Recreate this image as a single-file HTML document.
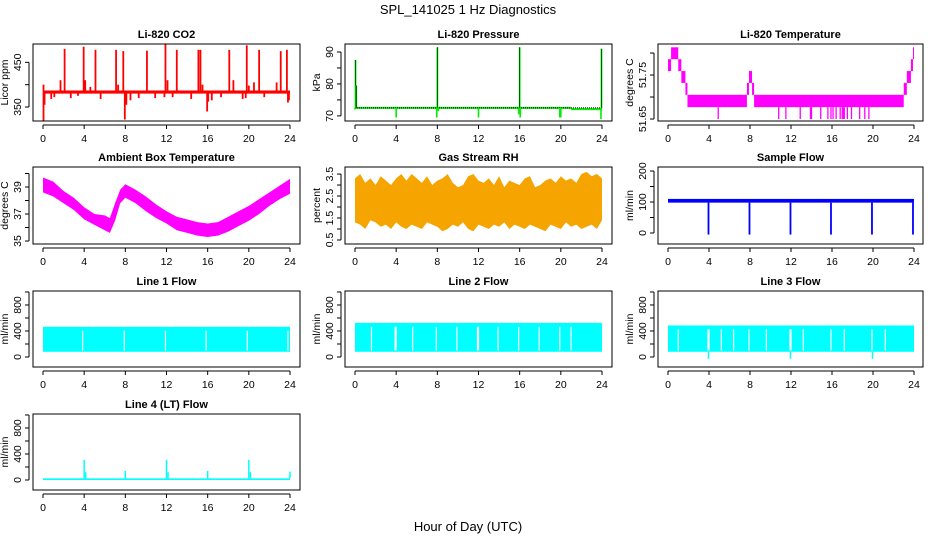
<!DOCTYPE html>
<html><head><meta charset="utf-8"><style>
html,body{margin:0;padding:0;background:#fff;}
svg{display:block;font-family:"Liberation Sans",sans-serif;}
.t{font-size:11px;font-weight:bold;text-anchor:middle;}
.tk{font-size:10.5px;text-anchor:middle;}
</style></head><body>
<svg id="c" width="936" height="540" viewBox="0 0 936 540">
<text x="468" y="14" font-size="13" text-anchor="middle">SPL_141025  1 Hz Diagnostics</text>
<text x="468" y="531" font-size="13" text-anchor="middle">Hour of Day (UTC)</text>
</svg>
<script>
// ---------- data ----------
const xTicks=[0,4,8,12,16,20,24];
const co2Base=383;
const co2SpikeT=[0.05,1.7,2.1,2.7,3.4,3.95,4.1,4.6,5.1,5.6,7.1,7.3,7.8,8.5,9.3,10.1,10.9,11.9,12.1,12.6,13.0,14.4,15.1,15.3,15.5,16.4,17.3,18.1,18.5,19.4,19.8,20.0,20.5,21.0,21.5,22.7,23.1,23.7,23.9];
const co2SpikeV=[400,410,480,370,375,485,410,395,478,368,478,400,475,365,370,476,370,490,410,372,478,368,478,478,400,365,372,478,410,368,488,398,405,478,372,405,475,478,365];
const co2DipT=[0.05,0.15,0.8,1.1,7.95,8.1,11.8,15.95,16.05,19.7,23.8];
const co2DipV=[318,355,368,372,322,355,372,340,362,370,360];
const presBase=72.5;
const presSpikeT=[0.05,0.12,8.0,16.0,23.95];
const presSpikeV=[87.5,79.5,91.5,91.5,91];
const presDipT=[0.0,4.0,7.95,8.1,12.0,15.9,16.05,19.9,20.0,23.9];
const presDipV=[72,69.5,69.5,71.5,69.5,70.5,69.5,69.5,69.5,69];
const tempStepT=[0,0.3,1.0,1.3,1.7,1.9,7.7,7.9,8.2,8.4,23.0,23.3,23.7,23.9];
const tempStepLo=[51.759,51.786,51.759,51.732,51.705,51.677,51.705,51.732,51.705,51.677,51.705,51.732,51.759,51.786];
const tempStepHi=[51.786,51.813,51.786,51.759,51.732,51.705,51.732,51.759,51.732,51.705,51.732,51.759,51.786,51.813];
const tempDipT=[4.9,10.8,11.5,12.9,13.9,14.0,14.9,15.6,15.9,16.1,16.4,16.8,17.0,17.1,17.2,17.5,17.9,18.7,19.2,19.6];
const ambT=[0,1,2,3,4,5,6,6.5,7,7.5,8,9,10,11,12,13,14,15,16,17,18,19,20,21,22,23,24];
const ambLo=[38.6,38.3,37.8,37.3,36.6,36.2,35.8,35.6,36.5,37.8,38.2,37.8,37.2,36.7,36.3,35.8,35.6,35.4,35.3,35.4,35.7,36.1,36.5,37.0,37.6,38.1,38.5];
const ambHi=[39.7,39.4,38.7,38.2,37.5,37.0,36.9,36.7,37.8,38.8,39.2,38.8,38.3,37.7,37.2,36.8,36.6,36.4,36.3,36.4,36.8,37.2,37.6,38.1,38.6,39.1,39.6];
const rhT=[0,0.5,1,1.5,2,2.5,3,3.5,4,4.5,5,5.5,6,6.5,7,7.5,8,8.5,9,9.5,10,10.5,11,11.5,12,12.5,13,13.5,14,14.5,15,15.5,16,16.5,17,17.5,18,18.5,19,19.5,20,20.5,21,21.5,22,22.5,23,23.5,24];
const rhHi=[3.3,3.5,3.1,3.3,3.0,3.4,3.2,3.0,3.3,3.5,3.2,3.5,3.3,3.1,3.4,3.0,3.2,3.3,3.5,3.1,2.9,3.0,3.4,3.5,3.2,3.1,3.3,3.0,3.4,2.9,3.2,3.1,3.0,3.3,3.4,2.9,3.0,3.2,3.3,3.1,3.4,3.2,3.3,3.1,3.5,3.6,3.4,3.5,3.3];
const rhLo=[1.3,1.2,1.0,1.4,1.3,1.1,1.2,1.0,1.3,1.1,1.0,1.2,1.1,1.0,1.3,1.2,1.1,0.9,1.0,1.2,1.1,1.3,1.0,0.9,1.2,1.1,1.0,1.2,1.1,1.3,1.0,1.2,1.1,1.0,1.2,1.1,1.0,0.9,1.2,1.1,1.0,1.3,1.1,1.2,1.0,1.1,1.2,1.0,1.4];
const sfLo=98, sfHi=110;
const sfDipT=[3.95,7.95,11.95,15.9,19.9,23.9];
const sfDipV=[-5,-5,-5,-5,-5,-5];
const l1Lo=80,l1Hi=465;
const l1Gap=[3.85,7.9,11.9,15.85,19.85,23.8];
const l2Lo=80,l2Hi=525;
const l2Gap=[1.6,3.9,4.0,5.6,7.9,9.9,11.9,12.0,13.9,15.9,17.9,19.9,21.0];
const l3Lo=80,l3Hi=485;
const l3Gap=[1.0,3.9,4.0,5.2,6.4,7.9,9.6,11.9,12.0,13.2,15.9,17.2,19.9,21.2];
const l3DipT=[3.95,11.95,19.95];
const l3DipV=[-30,-30,-30];
const l4Lo=0,l4Hi=25;
const l4SpikeT=[4.0,4.15,8.0,12.0,12.15,16.0,20.0,20.15,24.0];
const l4SpikeV=[310,120,140,310,120,140,310,120,130];

// ---------- layout ----------
const svg=document.getElementById('c');
const NS='http://www.w3.org/2000/svg';
const colL=[33,345,658], colR=[300,612,923], colX0=[43,355,668], colX24=[290,602,914];
const rowT=[44,167,291,414], rowB=[121,244,367,490];
function mk(tag,attrs,parent){const e=document.createElementNS(NS,tag);for(const k in attrs)e.setAttribute(k,attrs[k]);(parent||svg).appendChild(e);return e;}
function panel(col,row,title,ylab,dom,ticks,labels,name){
  const g=mk('g',{});
  
  
  const L=colL[col],R=colR[col],T=rowT[row],B=rowB[row];
  const sx=v=>colX0[col]+(colX24[col]-colX0[col])*v/24;
  const sy=v=>B-(v-dom[0])/(dom[1]-dom[0])*(B-T);
  const plot=mk('g',{},g);
  
  
  const box=mk('rect',{x:L,y:T,width:R-L,height:B-T,fill:'none',stroke:'#000','stroke-width':1},g);
  
  
  const tt=mk('text',{x:(L+R)/2,y:T-6,class:'t'},g);tt.textContent=title;
  
  
  const xa=mk('g',{},g);
  
  
  mk('line',{x1:sx(0),x2:sx(24),y1:B+4,y2:B+4,stroke:'#000'},xa);
  xTicks.forEach(v=>{mk('line',{x1:sx(v),x2:sx(v),y1:B+4,y2:B+8,stroke:'#000'},xa);
    const t=mk('text',{x:sx(v),y:B+21,class:'tk'},xa);t.textContent=v;});
  const ya=mk('g',{},g);
  
  
  mk('line',{x1:L-4,x2:L-4,y1:sy(ticks[0]),y2:sy(ticks[ticks.length-1]),stroke:'#000'},ya);
  ticks.forEach(v=>{mk('line',{x1:L-4,x2:L-8,y1:sy(v),y2:sy(v),stroke:'#000'},ya);});
  labels.forEach(v=>{const x=L-12,y=sy(v);const t=mk('text',{x:x,y:y,class:'tk',transform:`rotate(-90 ${x} ${y})`},ya);t.textContent=v;});
  const yl=mk('text',{x:L-25,y:(T+B)/2,class:'tk',transform:`rotate(-90 ${L-25} ${(T+B)/2})`},g);yl.textContent=ylab;
  
  
  return {sx,sy,g:plot};
}
function vline(p,t,v1,v2,col,w){mk('line',{x1:p.sx(t),x2:p.sx(t),y1:p.sy(v1),y2:p.sy(v2),stroke:col,'stroke-width':w||1.3},p.g);}
function hband(p,lo,hi,col){mk('rect',{x:p.sx(0),y:p.sy(hi),width:p.sx(24)-p.sx(0),height:Math.max(1.5,p.sy(lo)-p.sy(hi)),fill:col},p.g);}
function envelope(p,ts,lo,hi,fill){let d='M'+ts.map((t,i)=>p.sx(t)+','+p.sy(hi[i])).join(' L');
  for(let i=ts.length-1;i>=0;i--)d+=' L'+p.sx(ts[i])+','+p.sy(lo[i]);mk('path',{d:d+'Z',fill:fill},p.g);}

let p=panel(0,0,'Li-820 CO2','Licor ppm',[318.7,491],[350,400,450],[350,450],'co2-panel');
hband(p,380,387,'#ff0000');
co2SpikeT.forEach((t,i)=>vline(p,t,co2Base,co2SpikeV[i],'#ff0000',1.8));
co2DipT.forEach((t,i)=>vline(p,t,co2Base,co2DipV[i],'#ff0000',1.8));
p=panel(1,0,'Li-820 Pressure','kPa',[68.4,92.5],[70,75,80,85,90],[70,80,90],'pressure-panel');
mk('line',{x1:p.sx(0),x2:p.sx(21),y1:p.sy(presBase),y2:p.sy(presBase),stroke:'#00ee00','stroke-width':2},p.g);
mk('line',{x1:p.sx(21),x2:p.sx(24),y1:p.sy(presBase-0.4),y2:p.sy(presBase-0.4),stroke:'#00ee00','stroke-width':2},p.g);
mk('line',{x1:p.sx(0),x2:p.sx(24),y1:p.sy(presBase),y2:p.sy(presBase),stroke:'#000','stroke-width':1,'stroke-dasharray':'1 1'},p.g);
presSpikeT.forEach((t,i)=>{vline(p,t,presBase,presSpikeV[i],'#00ee00',1.8);vline(p,t,presBase,presSpikeV[i],'#000',0.6);});
presDipT.forEach((t,i)=>vline(p,t,presBase,presDipV[i],'#00ee00',1.6));
p=panel(2,0,'Li-820 Temperature','degrees C',[51.6455,51.8205],[51.65,51.70,51.75,51.80],[51.65,51.75],'li820-temperature-panel');
tempStepT.forEach((t,i)=>{const t2=i+1<tempStepT.length?tempStepT[i+1]:24;
  mk('rect',{x:p.sx(t),y:p.sy(tempStepHi[i]),width:p.sx(t2)-p.sx(t),height:p.sy(tempStepLo[i])-p.sy(tempStepHi[i]),fill:'#ff00ff'},p.g);});
tempDipT.forEach(t=>vline(p,t,51.677,51.65,'#ff00ff',1.3));
p=panel(0,1,'Ambient Box Temperature','degrees C',[34.78,40.48],[35,36,37,38,39,40],[35,37,39],'ambient-temperature-panel');
envelope(p,ambT,ambLo,ambHi,'#ff00ff');
p=panel(1,1,'Gas Stream RH','percent',[0.318,3.82],[0.5,1,1.5,2,2.5,3,3.5],[0.5,1.5,2.5,3.5],'gas-rh-panel');
envelope(p,rhT,rhLo,rhHi,'#f5a400');
p=panel(2,1,'Sample Flow','ml/min',[-35.5,213],[0,50,100,150,200],[0,100,200],'sample-flow-panel');
hband(p,sfLo,sfHi,'#0000ff');
sfDipT.forEach((t,i)=>vline(p,t,sfLo,sfDipV[i],'#0000ff',1.8));
const fT=[0,200,400,600,800,1000], fL=[0,400,800], fD=[-154,1015];
function flow(col,row,title,lo,hi,gaps,name){const q=panel(col,row,title,'ml/min',fD,fT,fL,name);hband(q,lo,hi,'#00ffff');
  gaps.forEach(t=>vline(q,t,lo+20,hi-60,'#ffffff',1.2));return q;}
flow(0,2,'Line 1 Flow',l1Lo,l1Hi,l1Gap,'line1-flow-panel');
flow(1,2,'Line 2 Flow',l2Lo,l2Hi,l2Gap,'line2-flow-panel');
p=flow(2,2,'Line 3 Flow',l3Lo,l3Hi,l3Gap,'line3-flow-panel');
l3DipT.forEach((t,i)=>vline(p,t,l3Lo,l3DipV[i],'#00ffff',1.5));
p=flow(0,3,'Line 4 (LT) Flow',l4Lo,l4Hi,[],'line4-flow-panel');
l4SpikeT.forEach((t,i)=>vline(p,t,l4Hi,l4SpikeV[i],'#00ffff',1.5));
</script>
</body></html>
